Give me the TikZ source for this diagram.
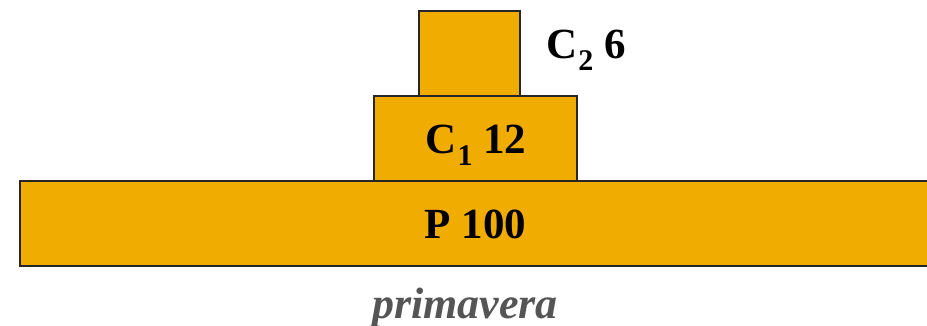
\documentclass[tikz,border=0pt]{standalone}
\usepackage{fontspec}
\setmainfont{Liberation Serif}
\definecolor{boxfill}{HTML}{F0AD00}
\definecolor{capgray}{HTML}{555555}
\newcommand{\lowsub}[1]{\kern1pt\raisebox{-12pt}{\fontsize{30}{30}\selectfont #1}}
\begin{document}
\begin{tikzpicture}[x=1pt,y=-1pt,
  blk/.style={draw=black!85,line width=2pt,fill=boxfill},
  lbl/.style={font=\fontsize{43}{45}\selectfont\bfseries,inner sep=0pt,anchor=base}]
\useasboundingbox (0,0) rectangle (927,326);
\fill[boxfill] (19.5,181) rectangle (930,266);
\draw[black!85,line width=2pt] (930,181) -- (19.5,181) -- (19.5,266) -- (930,266);
\node[lbl] (p) at (475.5,238) {P 100};
\draw[blk] (373.5,96) rectangle (576.5,181);
\node[lbl] (c1) at (476,154) {C\lowsub{1} 12};
\draw[blk] (418.5,11) rectangle (519.5,96);
\node[lbl,anchor=base west] (c2) at (546,59) {C\lowsub{2} 6};
\node[lbl,font=\fontsize{44}{46}\selectfont\bfseries\itshape,text=capgray] (cap) at (465,318) {primavera};
\end{tikzpicture}
\end{document}
